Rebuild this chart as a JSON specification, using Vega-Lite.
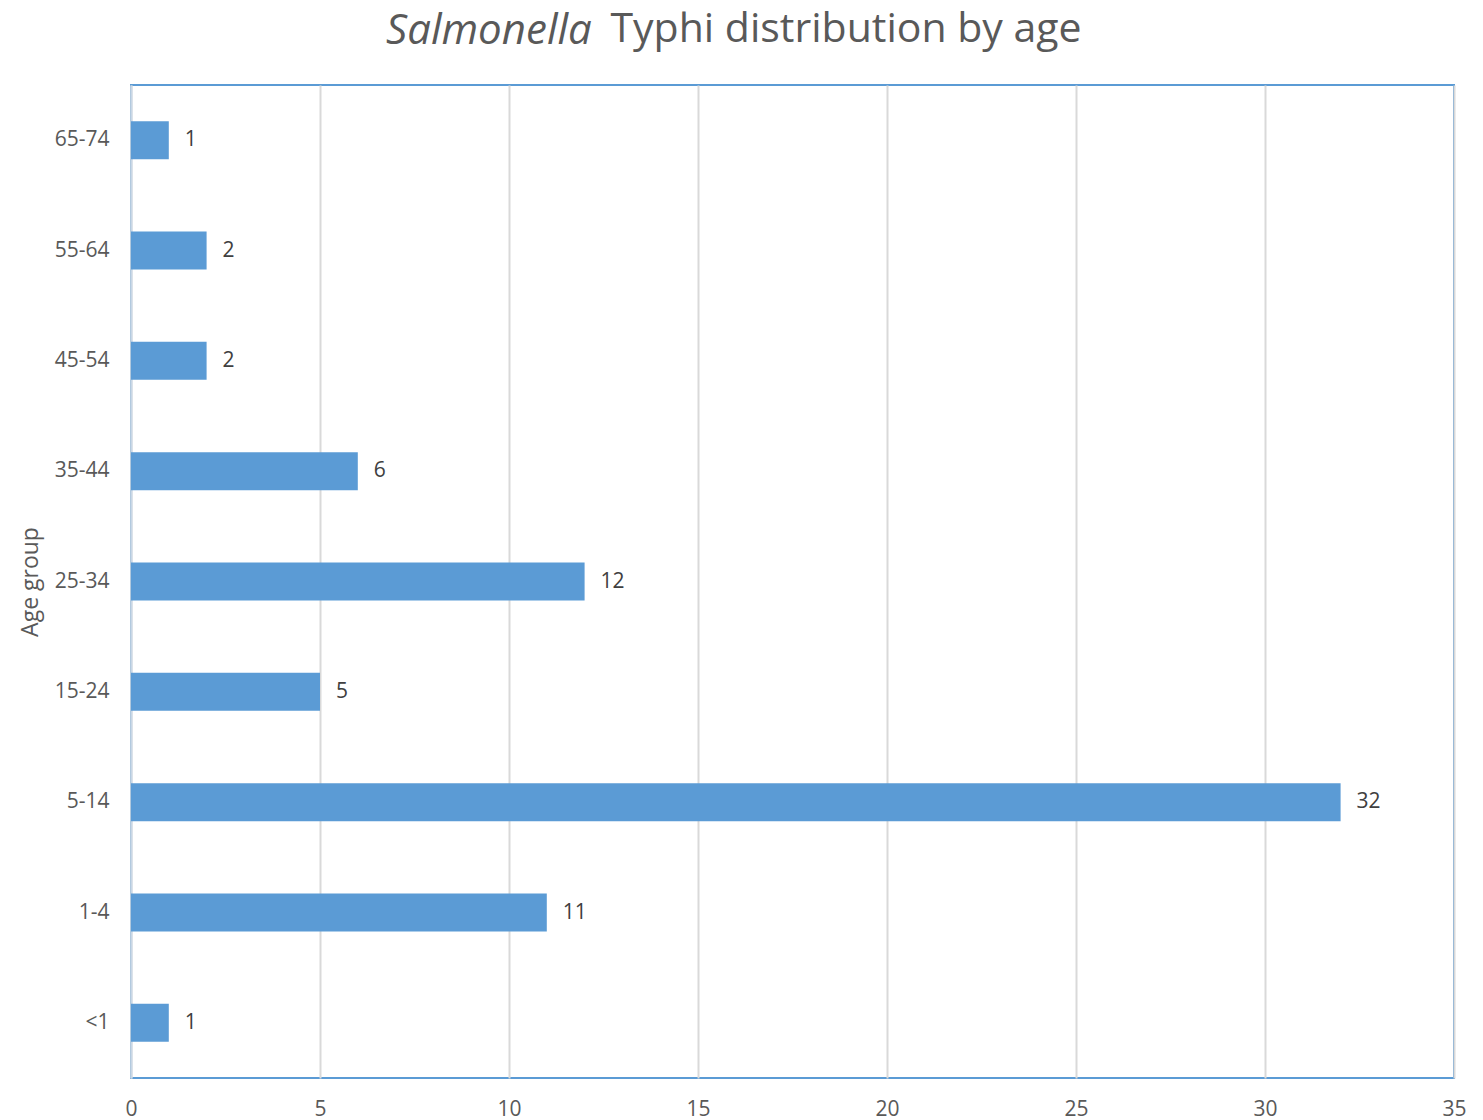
{
  "$schema": "https://vega.github.io/schema/vega-lite/v6.json",
  "autosize": {"type": "none"},
  "padding": {"left": 131, "top": 85, "right": 29, "bottom": 42},
  "width": 1323,
  "height": 993,
  "background": "white",
  "title": {
    "text": "Salmonella",
    "fontStyle": "italic",
    "font": "Open Sans",
    "fontSize": 42,
    "fontWeight": "normal",
    "color": "#595959",
    "anchor": "start",
    "frame": "group",
    "baseline": "alphabetic",
    "dx": 255,
    "offset": -78
  },
  "config": {
    "view": {"stroke": "#5b9bd5", "strokeWidth": 2},
    "axis": {"labelFont": "Open Sans", "titleFont": "Open Sans", "labelColor": "#595959", "titleColor": "#595959"}
  },
  "data": {
    "values": [
      {"age": "65-74", "count": 1},
      {"age": "55-64", "count": 2},
      {"age": "45-54", "count": 2},
      {"age": "35-44", "count": 6},
      {"age": "25-34", "count": 12},
      {"age": "15-24", "count": 5},
      {"age": "5-14", "count": 32},
      {"age": "1-4", "count": 11},
      {"age": "<1", "count": 1}
    ]
  },
  "encoding": {
    "y": {
      "field": "age",
      "type": "nominal",
      "sort": ["65-74", "55-64", "45-54", "35-44", "25-34", "15-24", "5-14", "1-4", "<1"],
      "scale": {"paddingInner": 0.655, "paddingOuter": 0.3275},
      "axis": {
        "title": "Age group",
        "titleFontSize": 23,
        "titleFontWeight": "normal",
        "titlePadding": 12,
        "labelFontSize": 21,
        "labelPadding": 22,
        "ticks": false,
        "domainColor": "#c9d7e6",
        "domainWidth": 2
      }
    }
  },
  "layer": [
    {
      "mark": {"type": "bar", "color": "#5b9bd5"},
      "encoding": {
        "x": {
          "field": "count",
          "type": "quantitative",
          "scale": {"domain": [0, 35], "nice": false},
          "axis": {
            "title": null,
            "values": [0, 5, 10, 15, 20, 25, 30, 35],
            "labelFontSize": 21,
            "labelPadding": 20,
            "labelFlush": false,
            "ticks": false,
            "domain": false,
            "gridColor": "#d9d9d9",
            "gridWidth": 2
          }
        }
      }
    },
    {
      "mark": {"type": "text", "align": "left", "dx": 16, "font": "Open Sans", "fontSize": 21, "color": "#404040"},
      "encoding": {
        "x": {
          "field": "count",
          "type": "quantitative",
          "scale": {"domain": [0, 35], "nice": false},
          "axis": {
            "orient": "top",
            "labels": false,
            "ticks": false,
            "domain": false,
            "grid": false,
            "title": "Typhi distribution by age",
            "titleFontSize": 41,
            "titleFontWeight": "normal",
            "titleColor": "#595959",
            "titleAlign": "left",
            "titleAnchor": null,
            "titleX": 479,
            "titleY": -44,
            "titleBaseline": "alphabetic"
          }
        },
        "text": {"field": "count", "type": "quantitative"}
      }
    }
  ],
  "resolve": {"scale": {"x": "independent"}}
}
